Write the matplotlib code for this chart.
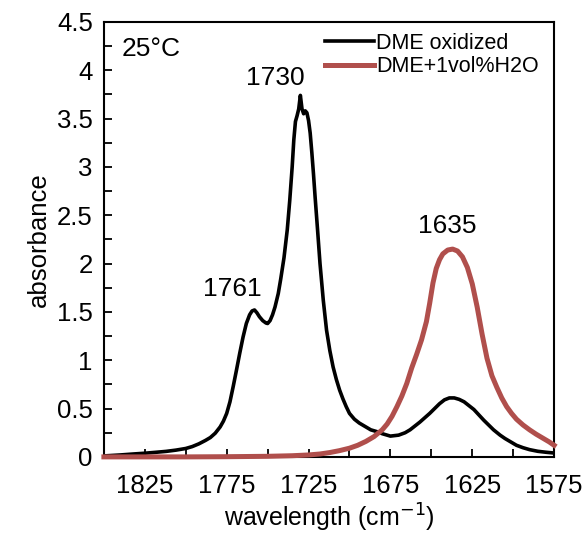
import numpy as np
import matplotlib
matplotlib.use('Agg')
import matplotlib.pyplot as plt
from matplotlib.ticker import MultipleLocator, FixedLocator, FuncFormatter

plt.rcParams['font.family'] = ['Liberation Sans', 'DejaVu Sans']

# DME oxidized (black)
wn_ox = [1850, 1845, 1840, 1832, 1825, 1818, 1812, 1806, 1800, 1796, 1792, 1788,
         1785, 1782, 1779, 1777, 1775, 1773, 1771, 1769, 1767, 1765, 1763, 1761,
         1759.5, 1758, 1756.5, 1755, 1753, 1751, 1750, 1748.5, 1747, 1745.5, 1743.5,
         1742, 1740, 1738, 1736.5, 1735, 1734, 1733, 1732, 1731, 1730, 1729, 1728,
         1727, 1726, 1725, 1724, 1723, 1722, 1721, 1719.5, 1718, 1716, 1714, 1712,
         1710, 1708, 1706, 1704, 1702, 1700, 1697, 1694, 1690, 1687, 1683, 1680,
         1675, 1670, 1666, 1663, 1660, 1657, 1654, 1651, 1648, 1645, 1642, 1639,
         1636, 1633, 1630, 1627, 1624, 1621, 1618, 1615, 1612, 1608, 1605, 1601,
         1598, 1594, 1590, 1585, 1580, 1575]
abs_ox = [0.01, 0.015, 0.02, 0.03, 0.038, 0.048, 0.057, 0.07, 0.087, 0.107, 0.135, 0.17,
          0.20, 0.245, 0.31, 0.37, 0.45, 0.57, 0.73, 0.90, 1.075, 1.24, 1.38, 1.47,
          1.51, 1.52, 1.49, 1.45, 1.41, 1.385, 1.38, 1.41, 1.47, 1.55, 1.69,
          1.84, 2.06, 2.35, 2.65, 3.00, 3.28, 3.47, 3.53, 3.60, 3.74, 3.60, 3.55,
          3.58, 3.56, 3.48, 3.35, 3.15, 2.93, 2.69, 2.35, 2.0, 1.62, 1.31, 1.10,
          0.93, 0.80, 0.69, 0.60, 0.52, 0.45, 0.39, 0.35, 0.31, 0.28, 0.26, 0.24,
          0.215, 0.225, 0.25, 0.28, 0.32, 0.36, 0.405, 0.45, 0.50, 0.55, 0.59, 0.61,
          0.61, 0.595, 0.57, 0.53, 0.49, 0.435, 0.38, 0.33, 0.28, 0.225, 0.19, 0.15,
          0.12, 0.095, 0.075, 0.058, 0.048, 0.04]

# DME + 1 vol% H2O (red)
wn_h2o = [1850, 1800, 1775, 1750, 1735, 1725, 1718, 1712, 1706, 1700, 1695, 1690,
          1685, 1680, 1677, 1674, 1671, 1668, 1665, 1662, 1659, 1656, 1653, 1651,
          1649, 1647, 1645, 1643, 1640, 1637, 1634, 1631, 1628, 1625, 1622, 1619,
          1616, 1613, 1610, 1607, 1604, 1601, 1598, 1594, 1590, 1586, 1582, 1578, 1575]
abs_h2o = [0.0, 0.0, 0.002, 0.006, 0.012, 0.02, 0.03, 0.045, 0.065, 0.09, 0.12, 0.16,
           0.21, 0.28, 0.34, 0.42, 0.52, 0.63, 0.76, 0.92, 1.06, 1.21, 1.40, 1.59,
           1.80, 1.95, 2.04, 2.10, 2.14, 2.15, 2.13, 2.07, 1.96, 1.79, 1.55, 1.27,
           1.02, 0.84, 0.72, 0.61, 0.52, 0.45, 0.39, 0.33, 0.28, 0.235, 0.195, 0.155, 0.12]

peak_labels = ['1761', '1730', '1635']
peak_x = [1771.5, 1745, 1640]
peak_y = [1.61, 3.80, 2.265]

fig = plt.figure(figsize=(5.87, 5.35), dpi=100)
ax = fig.add_axes([0.177, 0.146, 0.767, 0.813])

ax.plot(wn_ox, abs_ox, color='black', lw=2.6, label='DME oxidized', zorder=3)
ax.plot(wn_h2o, abs_h2o, color='#b04f4c', lw=3.6, label='DME+1vol%H2O',
        zorder=4, clip_on=False)

ax.set_xlim(1850, 1575)
ax.set_ylim(0, 4.5)
ax.xaxis.set_major_locator(FixedLocator([1825, 1775, 1725, 1675, 1625, 1575]))
ax.xaxis.set_minor_locator(FixedLocator([1800, 1750, 1700, 1650, 1600]))
ax.yaxis.set_major_locator(MultipleLocator(0.5))
ax.yaxis.set_minor_locator(MultipleLocator(0.25))
ax.yaxis.set_major_formatter(FuncFormatter(lambda v, p: f'{v:g}'))

ax.tick_params(which='both', direction='in', length=6, width=1.3,
               top=False, right=False, labelsize=18.5)
ax.tick_params(axis='x', pad=12)
ax.tick_params(axis='y', pad=8)
for s in ax.spines.values():
    s.set_linewidth(1.5)

ax.set_xlabel('wavelength (cm$^{-1}$)', fontsize=18, labelpad=3)
ax.set_ylabel('absorbance', fontsize=18.5, labelpad=4)

for t, px, py in zip(peak_labels, peak_x, peak_y):
    ax.text(px, py, t, fontsize=19, ha='center', va='bottom')

ax.text(0.04, 0.965, '25°C', transform=ax.transAxes, fontsize=19,
        ha='left', va='top')

leg = ax.legend(loc='upper right', frameon=False, fontsize=15.5, handlelength=2.3,
                handletextpad=0.1, labelspacing=0.12, borderaxespad=0.2,
                bbox_to_anchor=(0.995, 1.005))

fig.savefig('out.png', dpi=100)
